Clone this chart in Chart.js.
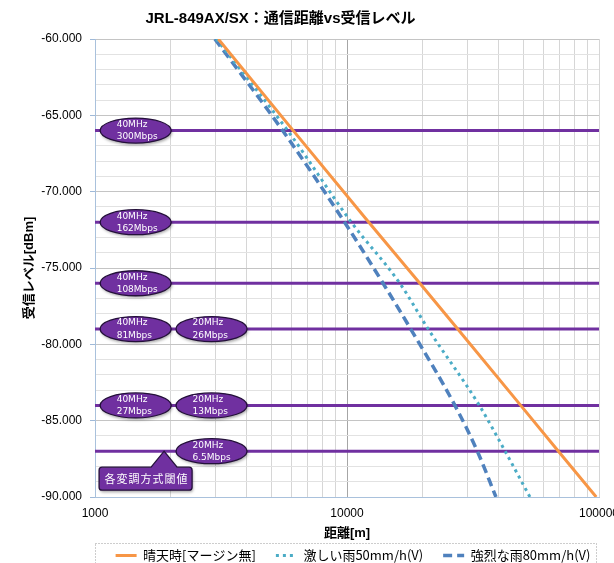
<!DOCTYPE html>
<html><head><meta charset="utf-8">
<script src="https://cdn.jsdelivr.net/npm/chart.js@4"></script>
<style>html,body{margin:0;padding:0;background:#fff;overflow:hidden}#wrap{width:614px;height:563px;position:relative}</style>
</head><body><div id="wrap"><canvas id="c"></canvas></div>
<script>
// ---- data ----
const levels = [-60, -66, -72, -76, -79, -84, -87, -90];           // 受信レベル [dBm]
const distClear  = [3085, 6120, 12200, 19450, 27500, 48900, 69000, 97500]; // 晴天時 [m]
const distRain50 = [3030, 5815, 10400, 16200, 21000, 33500, 42400, 53200]; // 激しい雨 [m]
const distRain80 = [2990, 5555, 9780, 13900, 17900, 26800, 32900, 39000];  // 強烈な雨 [m]
const seriesNames = ['晴天時[マージン無]', '激しい雨50mm/h(V)', '強烈な雨80mm/h(V)'];
const thresholds = [-66, -72, -76, -79, -84, -87];
const badges40 = [['40MHz','300Mbps'], ['40MHz','162Mbps'], ['40MHz','108Mbps'], ['40MHz','81Mbps'], ['40MHz','27Mbps'], null];
const badges20 = [null, null, null, ['20MHz','26Mbps'], ['20MHz','13Mbps'], ['20MHz','6.5Mbps']];
const xGridTicks = [1000,2000,3000,4000,5000,6000,7000,8000,9000,10000,20000,30000,40000,50000,60000,70000,80000,90000,100000];
const xLabelTicks = [1000, 10000, 100000];
const calloutText = '各変調方式閾値';
const titleText = 'JRL-849AX/SX：通信距離vs受信レベル';

const FONT = "'Liberation Sans', 'Noto Sans CJK JP', sans-serif";
Chart.defaults.font.family = FONT;
Chart.defaults.color = '#000';

function drawBadge(ctx, cx, cy, lines) {
  ctx.save();
  ctx.shadowColor = 'rgba(0,0,0,0.35)'; ctx.shadowBlur = 3; ctx.shadowOffsetX = 1; ctx.shadowOffsetY = 2;
  ctx.beginPath(); ctx.ellipse(cx, cy, 35.5, 12.5, 0, 0, Math.PI * 2);
  ctx.fillStyle = '#7030A0'; ctx.fill();
  ctx.shadowColor = 'transparent';
  ctx.lineWidth = 1.3; ctx.strokeStyle = '#24103a'; ctx.stroke();
  ctx.fillStyle = '#fff'; ctx.font = "9px 'DejaVu Sans'"; ctx.textBaseline = 'middle'; ctx.textAlign = 'left';
  ctx.fillText(lines[0], cx - 19, cy - 6);
  ctx.fillText(lines[1], cx - 19, cy + 6.5);
  ctx.restore();
}

const annot = {
  id: 'annot',
  afterLayout(chart) {
    const t = chart.titleBlock;
    if (t) { t.right = 561; t.width = t.right - t.left; }
    const lg = chart.legend;
    if (lg) { lg.left = 86; lg.right = 620; lg.width = lg.right - lg.left; }
  },
  afterDatasetsDraw(chart) {
    const { ctx, scales: { x, y } } = chart;
    thresholds.forEach((t, i) => {
      const py = y.getPixelForValue(t);
      if (badges40[i]) drawBadge(ctx, x.getPixelForValue(1450), py, badges40[i]);
      if (badges20[i]) drawBadge(ctx, x.getPixelForValue(2900), py, badges20[i]);
    });
    // callout
    const ax = x.getPixelForValue(1880), ay = y.getPixelForValue(-87);
    const L = ax - 65, R = ax + 28, T = ay + 16, B = ay + 39, r = 3;
    ctx.save();
    ctx.beginPath();
    ctx.moveTo(L + r, T);
    ctx.lineTo(ax - 13, T); ctx.lineTo(ax, ay); ctx.lineTo(ax + 13, T);
    ctx.lineTo(R - r, T); ctx.arcTo(R, T, R, T + r, r);
    ctx.lineTo(R, B - r); ctx.arcTo(R, B, R - r, B, r);
    ctx.lineTo(L + r, B); ctx.arcTo(L, B, L, B - r, r);
    ctx.lineTo(L, T + r); ctx.arcTo(L, T, L + r, T, r);
    ctx.closePath();
    ctx.shadowColor = 'rgba(0,0,0,0.35)'; ctx.shadowBlur = 3; ctx.shadowOffsetX = 1; ctx.shadowOffsetY = 2;
    ctx.fillStyle = '#7030A0'; ctx.fill();
    ctx.shadowColor = 'transparent';
    ctx.lineWidth = 1.3; ctx.strokeStyle = '#24103a'; ctx.stroke();
    ctx.fillStyle = '#fff'; ctx.font = "11px 'Noto Sans CJK JP'"; ctx.textAlign = 'center'; ctx.textBaseline = 'middle';
    try { ctx.letterSpacing = '1px'; } catch (e) {}
    ctx.fillText(calloutText, (L + R) / 2 + 1, (T + B) / 2);
    ctx.restore();
  },
  afterDraw(chart) {
    const { ctx } = chart;
    ctx.save();
    ctx.setLineDash([1, 2]);
    ctx.strokeStyle = '#9a9a9a'; ctx.lineWidth = 1;
    ctx.strokeRect(95.5, 543.5, 501, 40);
    ctx.restore();
  }
};

const mk = (d) => d.map((v, i) => ({ x: v, y: levels[i] }));

new Chart(document.getElementById('c'), {
  type: 'line',
  data: {
    datasets: [
      { label: seriesNames[0], data: mk(distClear), borderColor: '#F79646', backgroundColor: '#F79646', borderWidth: 3, pointRadius: 0, tension: 0 },
      { label: seriesNames[1], data: mk(distRain50), borderColor: '#4BACC6', backgroundColor: '#4BACC6', borderWidth: 3, borderDash: [3, 4], pointRadius: 0, cubicInterpolationMode: 'monotone' },
      { label: seriesNames[2], data: mk(distRain80), borderColor: '#4F81BD', backgroundColor: '#4F81BD', borderWidth: 3.5, borderDash: [9, 5], pointRadius: 0, cubicInterpolationMode: 'monotone' },
      ...thresholds.map(t => ({ label: '閾値', data: [{ x: 1000, y: t }, { x: 100000, y: t }], borderColor: '#7030A0', borderWidth: 3, pointRadius: 0 }))
    ]
  },
  options: {
    responsive: true, maintainAspectRatio: false, animation: false,
    layout: { padding: { left: 0, right: 15, top: 0, bottom: 0 } },
    plugins: {
      title: { display: true, text: titleText, font: { size: 15, weight: 'bold' }, color: '#000', padding: { top: 10, bottom: 11 } },
      legend: {
        position: 'bottom', fullSize: true, maxHeight: 34,
        labels: {
          generateLabels: (chart) => Chart.defaults.plugins.legend.labels.generateLabels(chart)
            .filter(l => l.datasetIndex < 3)
            .map(l => {
              const ds = chart.data.datasets[l.datasetIndex];
              l.lineDash = ds.borderDash || [];
              l.lineWidth = ds.borderWidth;
              l.strokeStyle = ds.borderColor;
              l.lineCap = 'butt';
              return l;
            }),
          usePointStyle: true, pointStyle: 'line', pointStyleWidth: 21,
          font: { size: 13, family: "'Noto Sans CJK JP', 'Liberation Sans', sans-serif" }, color: '#000', padding: 20
        }
      },
      tooltip: { enabled: false }
    },
    scales: {
      x: {
        type: 'logarithmic', min: 1000, max: 100000,
        afterBuildTicks: (s) => { s.ticks = xGridTicks.map(v => ({ value: v, major: xLabelTicks.includes(v) })); },
        afterFit: (s) => { s.paddingLeft = 0; s.paddingRight = 0; s.height = 32; },
        ticks: { autoSkip: false, maxRotation: 0, padding: 9, font: { size: 12 }, color: '#000',
          callback: (v) => xLabelTicks.includes(v) ? String(v) : '' },
        grid: { drawTicks: false, color: (c) => (c.tick && c.tick.value === 10000) ? '#a6a6a6' : '#d6d6d6' },
        border: { color: '#a9c1dc' },
        title: { display: true, text: '距離[m]', font: { size: 13, weight: 'bold' }, color: '#000', padding: { top: 0, bottom: -12 } }
      },
      y: {
        min: -90, max: -60,
        afterFit: (s) => { s.width = 95; s.paddingTop = 0; s.paddingBottom = 0; },
        ticks: { stepSize: 1, autoSkip: false, padding: 8, font: { size: 12 }, color: '#000',
          callback: (v) => (v % 5 === 0) ? v.toFixed(3) : '' },
        grid: { tickLength: 5,
          color: (c) => (c.tick && c.tick.value % 5 === 0) ? '#c4c4c4' : '#e2e2e2',
          tickColor: (c) => (c.tick && c.tick.value % 5 === 0) ? '#9fb9d8' : 'rgba(0,0,0,0)' },
        border: { color: '#a9c1dc' },
        title: { display: true, text: '受信レベル[dBm]', font: { size: 13, weight: 'bold' }, color: '#000', padding: { top: 22, bottom: 0 } }
      }
    }
  },
  plugins: [annot]
});
</script></body></html>
